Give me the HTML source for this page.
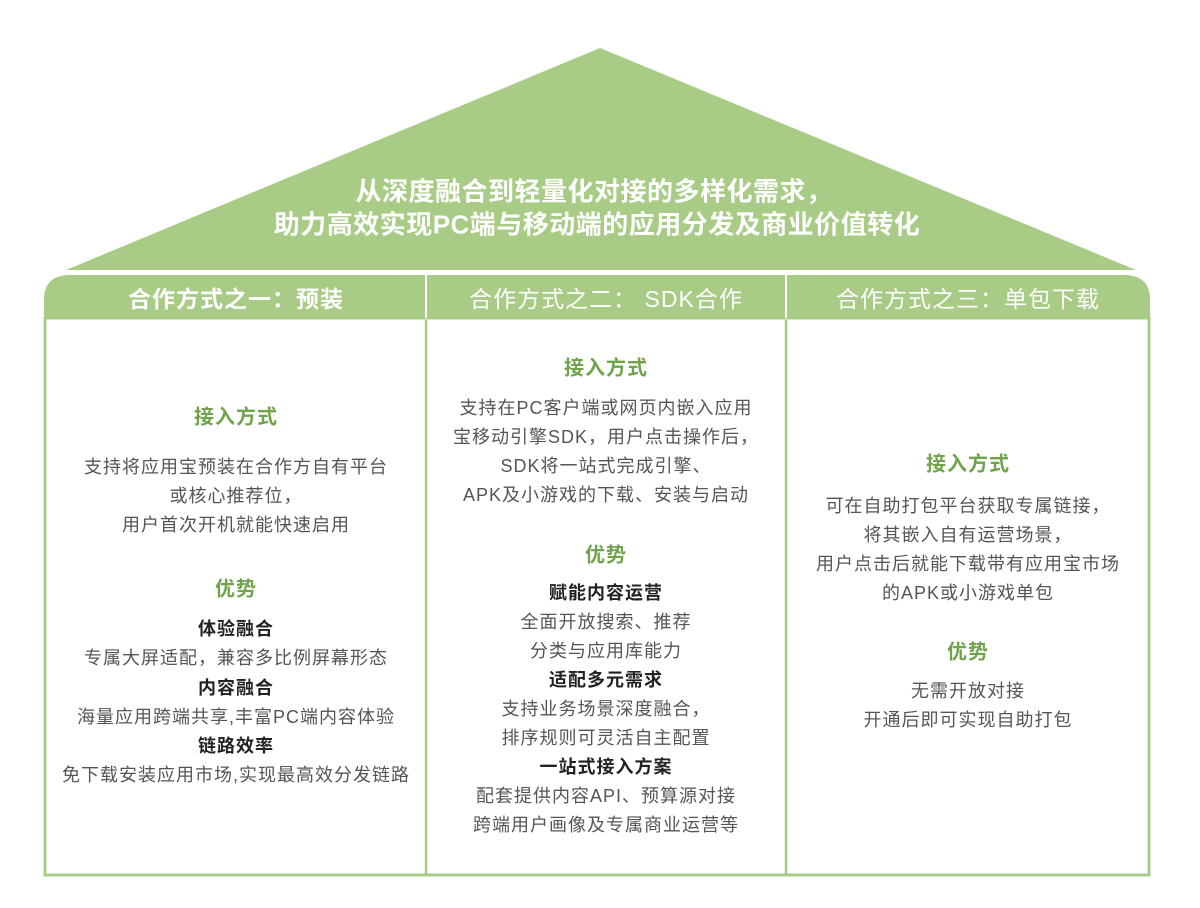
<!DOCTYPE html>
<html><head><meta charset="utf-8"><style>
html,body{margin:0;padding:0;background:#fff;}
#c{position:relative;width:1200px;height:908px;overflow:hidden;font-family:"Liberation Sans","Noto Sans CJK SC",sans-serif;}
.l{position:absolute;white-space:nowrap;transform:translate(-50%,-50%);font-size:18px;color:#555;letter-spacing:1px;}
.g{color:#6fa44a;font-weight:bold;font-size:20px;}
.b{color:#222;font-weight:bold;font-size:18px;}
.h{color:#fff;font-size:23px;letter-spacing:1px;}
.t{color:#fff;font-weight:bold;font-size:26px;letter-spacing:0.5px;}
</style></head><body><div id="c">
<svg width="1200" height="908" style="position:absolute;left:0;top:0">
<polygon points="600,48 66,270 1136,270" fill="#a8cc85"/>
<path d="M44,318 L44,300 Q44,275 70,275 L1124,275 Q1150,275 1150,300 L1150,318 Z" fill="#a8cc85"/>
<rect x="45" y="318" width="1104" height="557" fill="#fff" stroke="#a8cc85" stroke-width="3"/>
<line x1="426" y1="275" x2="426" y2="318" stroke="#fff" stroke-width="2"/>
<line x1="786" y1="275" x2="786" y2="318" stroke="#fff" stroke-width="2"/>
<line x1="426" y1="320" x2="426" y2="875" stroke="#a8cc85" stroke-width="2.5"/>
<line x1="786" y1="320" x2="786" y2="875" stroke="#a8cc85" stroke-width="2.5"/>
</svg>
<div class="l t" style="left:594px;top:190px">从深度融合到轻量化对接的多样化需求，</div>
<div class="l t" style="left:597px;top:223px">助力高效实现PC端与移动端的应用分发及商业价值转化</div>
<div class="l h" style="left:236px;top:297px;font-weight:bold">合作方式之一：预装</div>
<div class="l h" style="left:606px;top:297px">合作方式之二： SDK合作</div>
<div class="l h" style="left:968px;top:297px">合作方式之三：单包下载</div>

<div class="l g" style="left:236px;top:415px">接入方式</div>
<div class="l" style="left:236px;top:466px">支持将应用宝预装在合作方自有平台</div>
<div class="l" style="left:236px;top:495px">或核心推荐位，</div>
<div class="l" style="left:236px;top:524px">用户首次开机就能快速启用</div>
<div class="l g" style="left:236px;top:587px">优势</div>
<div class="l b" style="left:236px;top:628px">体验融合</div>
<div class="l" style="left:236px;top:657px">专属大屏适配，兼容多比例屏幕形态</div>
<div class="l b" style="left:236px;top:687px">内容融合</div>
<div class="l" style="left:236px;top:716px">海量应用跨端共享,丰富PC端内容体验</div>
<div class="l b" style="left:236px;top:745px">链路效率</div>
<div class="l" style="left:236px;top:774px">免下载安装应用市场,实现最高效分发链路</div>

<div class="l g" style="left:606px;top:366px">接入方式</div>
<div class="l" style="left:606px;top:407px">支持在PC客户端或网页内嵌入应用</div>
<div class="l" style="left:606px;top:436px">宝移动引擎SDK，用户点击操作后，</div>
<div class="l" style="left:606px;top:465px">SDK将一站式完成引擎、</div>
<div class="l" style="left:606px;top:494px">APK及小游戏的下载、安装与启动</div>
<div class="l g" style="left:606px;top:553px">优势</div>
<div class="l b" style="left:606px;top:592px">赋能内容运营</div>
<div class="l" style="left:606px;top:621px">全面开放搜索、推荐</div>
<div class="l" style="left:606px;top:650px">分类与应用库能力</div>
<div class="l b" style="left:606px;top:679px">适配多元需求</div>
<div class="l" style="left:606px;top:708px">支持业务场景深度融合，</div>
<div class="l" style="left:606px;top:737px">排序规则可灵活自主配置</div>
<div class="l b" style="left:606px;top:766px">一站式接入方案</div>
<div class="l" style="left:606px;top:795px">配套提供内容API、预算源对接</div>
<div class="l" style="left:606px;top:824px">跨端用户画像及专属商业运营等</div>

<div class="l g" style="left:968px;top:462px">接入方式</div>
<div class="l" style="left:968px;top:505px">可在自助打包平台获取专属链接，</div>
<div class="l" style="left:968px;top:534px">将其嵌入自有运营场景，</div>
<div class="l" style="left:968px;top:563px">用户点击后就能下载带有应用宝市场</div>
<div class="l" style="left:968px;top:592px">的APK或小游戏单包</div>
<div class="l g" style="left:968px;top:650px">优势</div>
<div class="l" style="left:968px;top:690px">无需开放对接</div>
<div class="l" style="left:968px;top:719px">开通后即可实现自助打包</div>
</div></body></html>
